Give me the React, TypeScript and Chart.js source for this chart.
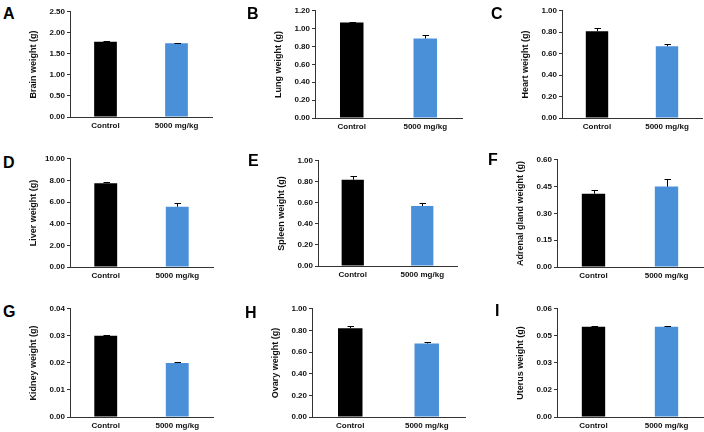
import React, { useEffect, useRef } from "react";
import { Chart, registerables } from "chart.js";

Chart.register(...registerables);

const categories = ["Control", "5000 mg/kg"];

const brainMean = [1.79, 1.75];
const brainErr = [0.02, 0.02];
const lungMean = [1.07, 0.89];
const lungErr = [0.01, 0.035];
const heartMean = [0.81, 0.67];
const heartErr = [0.025, 0.02];
const liverMean = [7.74, 5.57];
const liverErr = [0.1, 0.35];
const spleenMean = [0.82, 0.57];
const spleenErr = [0.04, 0.025];
const adrenalMean = [0.41, 0.45];
const adrenalErr = [0.02, 0.04];
const kidneyMean = [0.03, 0.02];
const kidneyErr = [0.0002, 0.0002];
const ovaryMean = [0.82, 0.68];
const ovaryErr = [0.025, 0.01];
const uterusMean = [0.05, 0.05];
const uterusErr = [0.0003, 0.0003];

const panelLetters = ["A", "B", "C", "D", "E", "F", "G", "H", "I"];
const yTitles = [
  "Brain weight (g)",
  "Lung weight (g)",
  "Heart weight (g)",
  "Liver weight (g)",
  "Spleen weight (g)",
  "Adrenal gland weight (g)",
  "Kidney weight (g)",
  "Ovary weight (g)",
  "Uterus weight (g)",
];
const yMaxes = [2.5, 1.2, 1.0, 10, 1.0, 0.6, 0.04, 1.0, 0.06];
const ySteps = [0.5, 0.2, 0.2, 2, 0.2, 0.15, 0.01, 0.2, 0.015];
const means = [brainMean, lungMean, heartMean, liverMean, spleenMean, adrenalMean, kidneyMean, ovaryMean, uterusMean];
const errs = [brainErr, lungErr, heartErr, liverErr, spleenErr, adrenalErr, kidneyErr, ovaryErr, uterusErr];

// layout: plot area [axisX, topY, endX, bottomY]
const plotAreas = [
  [70, 11, 212, 117],
  [315, 10, 462, 118],
  [562, 10, 702, 118],
  [70, 158, 213, 267],
  [318, 160, 457, 266],
  [557, 159, 703, 267],
  [70, 308, 213, 417],
  [312, 308, 465, 417],
  [557, 308, 703, 417],
];
// letter cap-top positions [x, y]
const letterPos = [
  [3, 8],
  [247, 8],
  [491, 7.5],
  [3, 156.5],
  [248, 155],
  [488, 154],
  [3, 305.5],
  [245, 306.5],
  [495, 305],
];

const barColors = ["#000000", "#4A90D9"];
const FONT = "'Liberation Sans', Arial, sans-serif";

const errorBarPlugin = {
  id: "errorBars",
  afterDatasetsDraw(chart: any, _args: any, opts: any) {
    const errors: number[] = opts.errors || [];
    const meta = chart.getDatasetMeta(0);
    const yScale = chart.scales.y;
    const data = chart.data.datasets[0].data as number[];
    const ctx = chart.ctx;
    ctx.save();
    ctx.strokeStyle = "#000";
    ctx.lineWidth = 1;
    meta.data.forEach((el: any, i: number) => {
      const v = data[i];
      const e = errors[i] || 0;
      const x = Math.round(el.x) + 0.5;
      const yb = yScale.getPixelForValue(v);
      const yt = Math.round(yScale.getPixelForValue(v + e)) + 0.5;
      ctx.beginPath();
      ctx.moveTo(x, yb);
      ctx.lineTo(x, yt);
      ctx.moveTo(x - 3, yt);
      ctx.lineTo(x + 3.5, yt);
      ctx.stroke();
    });
    ctx.restore();
  },
};

function Panel({ idx }: { idx: number }) {
  const ref = useRef<HTMLCanvasElement>(null);
  const [axisX, topY, endX, bottomY] = plotAreas[idx];
  const left = axisX - 48;
  const top = topY - 6;
  const width = endX - left + 4;
  const height = bottomY - top + 20;

  useEffect(() => {
    if (!ref.current) return;
    const chart = new Chart(ref.current, {
      type: "bar",
      data: {
        labels: categories,
        datasets: [
          {
            data: means[idx],
            backgroundColor: barColors,
            borderWidth: 0,
            barPercentage: 0.32,
            categoryPercentage: 1,
          },
        ],
      },
      options: {
        animation: false,
        responsive: false,
        devicePixelRatio: 1,
        layout: { padding: { left: 0, top: 6, right: 4, bottom: 0 } },
        plugins: {
          legend: { display: false },
          tooltip: { enabled: false },
          errorBars: { errors: errs[idx] },
        } as any,
        scales: {
          x: {
            grid: { display: false, drawTicks: false },
            border: { display: true, color: "#333", width: 1 },
            ticks: { color: "#111", font: { family: FONT, size: 8, weight: "bold" }, padding: 4 },
            afterFit: (s: any) => {
              s.height = 20;
            },
          },
          y: {
            min: 0,
            max: yMaxes[idx],
            ticks: {
              stepSize: ySteps[idx],
              color: "#111",
              padding: 2,
              font: { family: FONT, size: 8, weight: "bold" },
              callback: (v: any) => (Math.round(Number(v) * 100 + 1e-6) / 100).toFixed(2),
            },
            grid: { drawOnChartArea: false, drawTicks: true, tickLength: 3, color: "#333" },
            border: { display: true, color: "#333", width: 1 },
            title: {
              display: true,
              text: yTitles[idx],
              color: "#111",
              font: { family: FONT, size: 9, weight: "bold" },
              padding: { top: 6.6, bottom: 0 },
            },
            afterFit: (s: any) => {
              s.width = 48;
            },
          },
        },
      },
      plugins: [errorBarPlugin],
    } as any);
    return () => chart.destroy();
  }, [idx]);

  return (
    <canvas
      ref={ref}
      width={width}
      height={height}
      style={{ position: "absolute", left, top, width, height }}
    />
  );
}

export default function App() {
  return (
    <div
      style={{
        position: "absolute",
        left: 0,
        top: 0,
        width: 704,
        height: 432,
        overflow: "hidden",
        background: "#fff",
      }}
    >
      {panelLetters.map((_, i) => (
        <Panel key={i} idx={i} />
      ))}
      {panelLetters.map((l, i) => (
        <div
          key={"l" + i}
          style={{
            position: "absolute",
            left: letterPos[i][0],
            top: letterPos[i][1] - 2,
            fontFamily: FONT,
            fontWeight: "bold",
            fontSize: 16,
            lineHeight: "16px",
            color: "#000",
          }}
        >
          {l}
        </div>
      ))}
    </div>
  );
}
